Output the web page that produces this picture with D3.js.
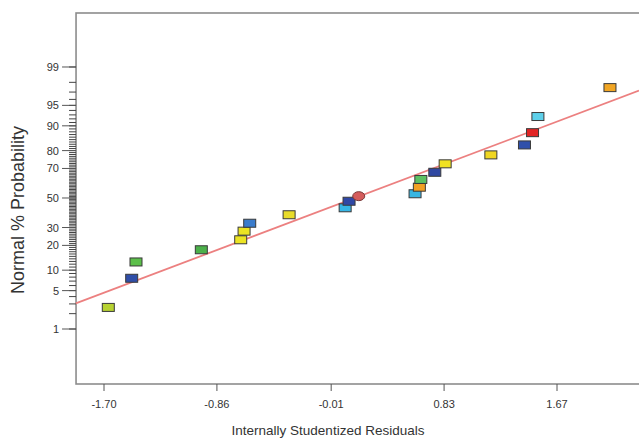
<!DOCTYPE html>
<html>
<head>
<meta charset="utf-8">
<script src="https://cdn.jsdelivr.net/npm/d3@7"></script>
<style>
  body { margin: 0; background: #fff; }
  svg { display: block; font-family: Arial, "Liberation Sans", sans-serif; }
</style>
</head>
<body>
<svg id="chart" width="639" height="438"></svg>
<script>
// residuals (x) and normal % probability (y)
var residuals = [-1.668, -1.494, -1.462, -0.976, -0.683, -0.658, -0.616, -0.323, 0.094, 0.123, 0.195,
                 0.614, 0.646, 0.657, 0.761, 0.838, 1.178, 1.428, 1.488, 1.528, 2.064];
var probs = [2.6, 7.7, 12.8, 17.9, 22.9, 27.8, 32.7, 38.3, 43.1, 47.7, 51.3,
             53.0, 57.6, 62.9, 67.6, 72.8, 77.8, 82.7, 87.7, 92.6, 97.5];
var colors = ["#b7d232", "#2f4ea8", "#5cbf4a", "#4cb04a", "#ece424", "#ece424", "#3a7ccc", "#e8dc2a",
              "#36b6e6", "#2f48a6", "#d45c5c", "#38b6e2", "#f2a024", "#5cc062", "#3048a2", "#f0e222",
              "#f0d622", "#3050aa", "#e22424", "#5ed0ea", "#f2a624"];
var shapes = ["r","r","r","r","r","r","r","r","r","r","c","r","r","r","r","r","r","r","r","r","r"];

var xTicks = [-1.70, -0.86, -0.01, 0.83, 1.67];
var yTicks = [1, 5, 10, 20, 30, 50, 70, 80, 90, 95, 99];
var yMinor = d3.range(1, 100);

// fitted reference line end points (residual, %)
var lineX = [-1.91, 2.28];
var lineP = [3.07, 97.17];

// inverse normal cdf (Acklam)
function probit(p) {
  var a = [-39.69683028665376, 220.9460984245205, -275.9285104469687, 138.3577518672690, -30.66479806614716, 2.506628277459239];
  var b = [-54.47609879822406, 161.5858368580409, -155.6989798598866, 66.80131188771972, -13.28068155288572];
  var c = [-0.007784894002430293, -0.3223964580411365, -2.400758277161838, -2.549732539343734, 4.374664141464968, 2.938163982698783];
  var d = [0.007784695709041462, 0.3224671290700398, 2.445134137142996, 3.754408661907416];
  var q, r;
  if (p < 0.02425) {
    q = Math.sqrt(-2 * Math.log(p));
    return (((((c[0]*q+c[1])*q+c[2])*q+c[3])*q+c[4])*q+c[5]) / ((((d[0]*q+d[1])*q+d[2])*q+d[3])*q+1);
  } else if (p > 1 - 0.02425) {
    q = Math.sqrt(-2 * Math.log(1 - p));
    return -(((((c[0]*q+c[1])*q+c[2])*q+c[3])*q+c[4])*q+c[5]) / ((((d[0]*q+d[1])*q+d[2])*q+d[3])*q+1);
  }
  q = p - 0.5; r = q * q;
  return (((((a[0]*r+a[1])*r+a[2])*r+a[3])*r+a[4])*r+a[5])*q / (((((b[0]*r+b[1])*r+b[2])*r+b[3])*r+b[4])*r+1);
}

var svg = d3.select("#chart");

var x = d3.scaleLinear().domain([-1.70, 1.67]).range([104, 557]);
var yz = d3.scaleLinear().domain([-3.303, 3.285]).range([384, 13]);
function y(p) { return yz(probit(p / 100)); }

var plotL = x(-1.908), plotR = 650, plotT = 13, plotB = 384;

// frame
svg.append("rect")
  .attr("x", plotL).attr("y", plotT)
  .attr("width", plotR - plotL).attr("height", plotB - plotT)
  .attr("fill", "none").attr("stroke", "#8c8c8c").attr("stroke-width", 1.6);

// y minor ticks (every percent)
svg.append("g").selectAll("line")
  .data(yMinor)
  .enter().append("line")
  .attr("x1", plotL - 7).attr("x2", plotL)
  .attr("y1", function(d){ return y(d); })
  .attr("y2", function(d){ return y(d); })
  .attr("stroke", "#444").attr("stroke-width", 1);

// y major ticks + labels
var yg = svg.append("g");
yg.selectAll("line")
  .data(yTicks)
  .enter().append("line")
  .attr("x1", plotL - 14).attr("x2", plotL)
  .attr("y1", function(d){ return y(d); })
  .attr("y2", function(d){ return y(d); })
  .attr("stroke", "#555").attr("stroke-width", 1);
yg.selectAll("text")
  .data(yTicks)
  .enter().append("text")
  .attr("x", 59)
  .attr("y", function(d){ return y(d) + 4; })
  .attr("text-anchor", "end")
  .attr("font-size", 11)
  .attr("fill", "#333")
  .text(function(d){ return d; });

// x ticks + labels
var xg = svg.append("g");
xg.selectAll("line")
  .data(xTicks)
  .enter().append("line")
  .attr("x1", function(d){ return x(d); })
  .attr("x2", function(d){ return x(d); })
  .attr("y1", plotB).attr("y2", plotB + 7)
  .attr("stroke", "#555").attr("stroke-width", 1);
xg.selectAll("text")
  .data(xTicks)
  .enter().append("text")
  .attr("x", function(d){ return x(d); })
  .attr("y", 408)
  .attr("text-anchor", "middle")
  .attr("font-size", 11)
  .attr("fill", "#333")
  .text(function(d){ return d.toFixed(2); });

// axis titles
svg.append("text")
  .attr("x", 328).attr("y", 435)
  .attr("text-anchor", "middle")
  .attr("font-size", 13.5)
  .attr("fill", "#333")
  .text("Internally Studentized Residuals");
svg.append("text")
  .attr("transform", "translate(24,210) rotate(-90)")
  .attr("text-anchor", "middle")
  .attr("font-size", 18)
  .attr("fill", "#333")
  .text("Normal % Probability");

// fitted line
svg.append("line")
  .attr("x1", x(lineX[0])).attr("y1", y(lineP[0]))
  .attr("x2", x(lineX[1])).attr("y2", y(lineP[1]))
  .attr("stroke", "#ec8080").attr("stroke-width", 1.8);

// points
var pts = residuals.map(function(r, i){ return {x: r, p: probs[i], c: colors[i], s: shapes[i]}; });
var pg = svg.append("g");
pg.selectAll("rect")
  .data(pts.filter(function(d){ return d.s === "r"; }))
  .enter().append("rect")
  .attr("x", function(d){ return x(d.x) - 6; })
  .attr("y", function(d){ return y(d.p) - 4; })
  .attr("width", 12).attr("height", 8)
  .attr("fill", function(d){ return d.c; })
  .attr("stroke", "#3a3a3a").attr("stroke-width", 1);
pg.selectAll("ellipse")
  .data(pts.filter(function(d){ return d.s === "c"; }))
  .enter().append("ellipse")
  .attr("cx", function(d){ return x(d.x); })
  .attr("cy", function(d){ return y(d.p); })
  .attr("rx", 6).attr("ry", 4.5)
  .attr("fill", function(d){ return d.c; })
  .attr("stroke", "#7a3a3a").attr("stroke-width", 1);
</script>
</body>
</html>
